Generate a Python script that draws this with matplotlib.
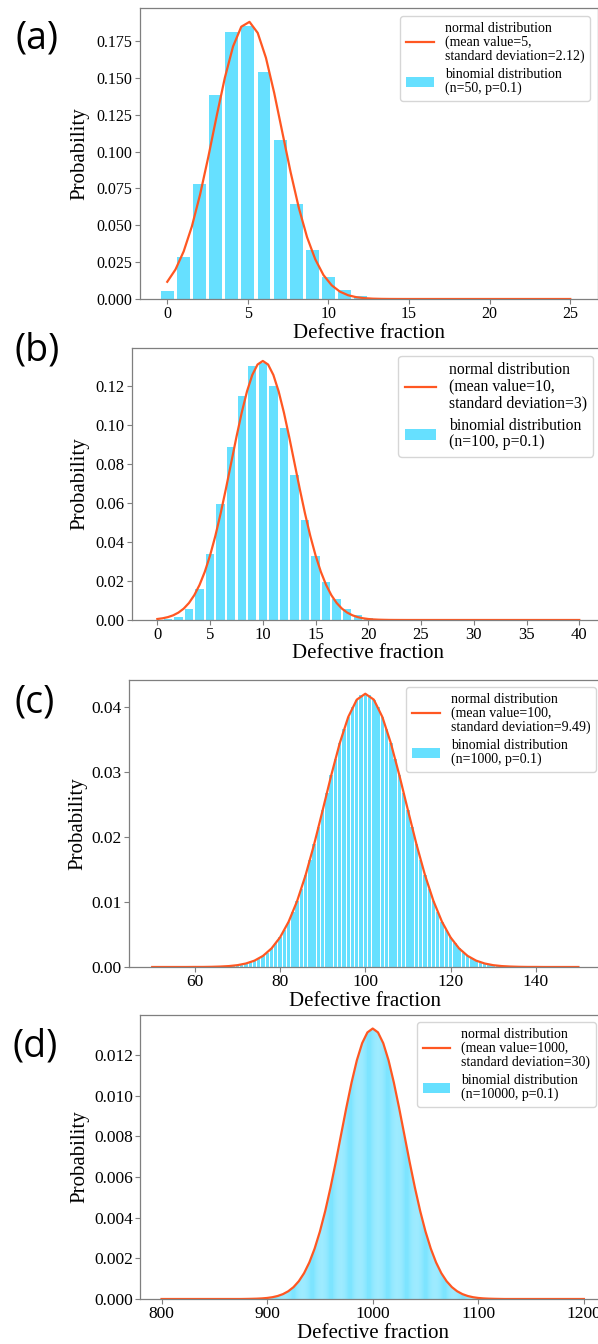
import numpy as np
import matplotlib
matplotlib.use("Agg")
import matplotlib.pyplot as plt

plt.rcParams['font.family'] = ['Liberation Serif', 'DejaVu Serif']

W, H = 598, 1344
BAR_COLOR = '#66e0ff'
LINE_COLOR = '#ff5722'
SPINE_COLOR = '#7f7f7f'

# ---- panel (a): n=50, p=0.1 ----
a_k = np.arange(0, 26)
a_bars = [0.0052, 0.0286, 0.0779, 0.1386, 0.1809, 0.1849, 0.1541, 0.1076, 0.0643, 0.0333,
          0.0152, 0.0061, 0.0022, 0.0007, 0.0002, 0.0, 0.0, 0.0, 0.0, 0.0,
          0.0, 0.0, 0.0, 0.0, 0.0, 0.0]
a_x = np.linspace(0, 25, 50)
a_curve = [0.01167, 0.01999, 0.03232, 0.04933, 0.07105, 0.09657, 0.1239, 0.1500, 0.1713, 0.1847,
           0.1880, 0.1805, 0.1636, 0.1399, 0.1129, 0.0860, 0.0618, 0.0419, 0.0269, 0.0162,
           0.00925, 0.00498, 0.00253, 0.00121, 0.00055, 0.00023, 0.00009, 0.00003, 0.00001, 0.0,
           0.0, 0.0, 0.0, 0.0, 0.0, 0.0, 0.0, 0.0, 0.0, 0.0,
           0.0, 0.0, 0.0, 0.0, 0.0, 0.0, 0.0, 0.0, 0.0, 0.0]

# ---- panel (b): n=100, p=0.1 ----
b_k = np.arange(0, 41)
b_bars = [0.00003, 0.0003, 0.0016, 0.0059, 0.0159, 0.0339, 0.0596, 0.0889, 0.1148, 0.1304,
          0.1319, 0.1199, 0.0988, 0.0743, 0.0513, 0.0327, 0.0193, 0.0106, 0.0054, 0.0026,
          0.0012, 0.0005, 0.0002, 0.0001, 0.00002, 0.0, 0.0, 0.0, 0.0, 0.0,
          0.0, 0.0, 0.0, 0.0, 0.0, 0.0, 0.0, 0.0, 0.0, 0.0, 0.0]
b_x = np.arange(0, 40.5, 0.5)
b_curve = [0.00051, 0.00088, 0.00148, 0.00240, 0.00380, 0.00584, 0.00874, 0.01272, 0.01800, 0.02477,
           0.03316, 0.04317, 0.05467, 0.06733, 0.08066, 0.09398, 0.10648, 0.11736, 0.12579, 0.13115,
           0.13298,
           0.13115, 0.12579, 0.11736, 0.10648, 0.09398, 0.08066, 0.06733, 0.05467, 0.04317, 0.03316,
           0.02477, 0.01800, 0.01272, 0.00874, 0.00584, 0.00380, 0.00240, 0.00148, 0.00088, 0.00051,
           0.00029, 0.00016, 0.00009, 0.00004, 0.00002, 0.00001, 0.0, 0.0, 0.0, 0.0,
           0.0, 0.0, 0.0, 0.0, 0.0, 0.0, 0.0, 0.0, 0.0, 0.0,
           0.0, 0.0, 0.0, 0.0, 0.0, 0.0, 0.0, 0.0, 0.0, 0.0,
           0.0, 0.0, 0.0, 0.0, 0.0, 0.0, 0.0, 0.0, 0.0, 0.0]

# ---- panel (c): n=1000, p=0.1 ----
c_k = np.arange(50, 151)
c_bars = [0.0, 0.0, 0.0, 0.0, 0.0, 0.0, 0.0, 0.0, 0.0, 0.0,
          0.00001, 0.00001, 0.00001, 0.00002, 0.00003, 0.00005, 0.00007, 0.00010, 0.00014, 0.00020,
          0.00028, 0.00039, 0.00054, 0.00073, 0.00098, 0.00131, 0.00171, 0.00223, 0.00286, 0.00363,
          0.00456, 0.00566, 0.00695, 0.00844, 0.01014, 0.01205, 0.01415, 0.01644, 0.01889, 0.02147,
          0.02413, 0.02681, 0.02947, 0.03203, 0.03443, 0.03660, 0.03847, 0.04000, 0.04113, 0.04182,
          0.04205,
          0.04182, 0.04113, 0.04000, 0.03847, 0.03660, 0.03443, 0.03203, 0.02947, 0.02681, 0.02413,
          0.02147, 0.01889, 0.01644, 0.01415, 0.01205, 0.01014, 0.00844, 0.00695, 0.00566, 0.00456,
          0.00363, 0.00286, 0.00223, 0.00171, 0.00131, 0.00098, 0.00073, 0.00054, 0.00039, 0.00028,
          0.00020, 0.00014, 0.00010, 0.00007, 0.00005, 0.00003, 0.00002, 0.00001, 0.00001, 0.00001,
          0.0, 0.0, 0.0, 0.0, 0.0, 0.0, 0.0, 0.0, 0.0, 0.0]
c_x = np.arange(50, 151, 2)
c_curve = [0.0, 0.0, 0.0, 0.0, 0.0, 0.00001, 0.00001, 0.00003, 0.00007, 0.00014,
           0.00028, 0.00054, 0.00098, 0.00171, 0.00286, 0.00456, 0.00695, 0.01014, 0.01415, 0.01889,
           0.02413, 0.02947, 0.03443, 0.03847, 0.04113,
           0.04204,
           0.04113, 0.03847, 0.03443, 0.02947, 0.02413, 0.01889, 0.01415, 0.01014, 0.00695, 0.00456,
           0.00286, 0.00171, 0.00098, 0.00054, 0.00028, 0.00014, 0.00007, 0.00003, 0.00001, 0.00001,
           0.0, 0.0, 0.0, 0.0, 0.0]

# ---- panel (d): n=10000, p=0.1 ----
d_k = np.arange(900, 1101)
d_bars = [0.000051, 0.000057, 0.000064, 0.000071, 0.000080, 0.000088, 0.000098, 0.000109, 0.000121, 0.000134,
          0.000148, 0.000163, 0.000180, 0.000198, 0.000218, 0.000240, 0.000264, 0.000290, 0.000317, 0.000347,
          0.000380, 0.000415, 0.000453, 0.000494, 0.000537, 0.000584, 0.000635, 0.000689, 0.000746, 0.000808,
          0.000874, 0.000944, 0.00102, 0.00110, 0.00118, 0.00127, 0.00137, 0.00147, 0.00157, 0.00168,
          0.00180, 0.00192, 0.00205, 0.00219, 0.00233, 0.00248, 0.00263, 0.00279, 0.00296, 0.00313,
          0.00332, 0.00350, 0.00370, 0.00390, 0.00410, 0.00432, 0.00454, 0.00476, 0.00499, 0.00523,
          0.00547, 0.00571, 0.00596, 0.00622, 0.00647, 0.00673, 0.00700, 0.00726, 0.00753, 0.00780,
          0.00807, 0.00833, 0.00860, 0.00887, 0.00913, 0.00940, 0.00966, 0.00991, 0.01016, 0.01041,
          0.01065, 0.01088, 0.01111, 0.01133, 0.01154, 0.01174, 0.01193, 0.01211, 0.01228, 0.01243,
          0.01258, 0.01271, 0.01283, 0.01294, 0.01303, 0.01311, 0.01318, 0.01323, 0.01327, 0.01329,
          0.01330,
          0.01329, 0.01327, 0.01323, 0.01318, 0.01311, 0.01303, 0.01294, 0.01283, 0.01271, 0.01258,
          0.01243, 0.01228, 0.01211, 0.01193, 0.01174, 0.01154, 0.01133, 0.01111, 0.01088, 0.01065,
          0.01041, 0.01016, 0.00991, 0.00966, 0.00940, 0.00913, 0.00887, 0.00860, 0.00833, 0.00807,
          0.00780, 0.00753, 0.00726, 0.00700, 0.00673, 0.00647, 0.00622, 0.00596, 0.00571, 0.00547,
          0.00523, 0.00499, 0.00476, 0.00454, 0.00432, 0.00410, 0.00390, 0.00370, 0.00350, 0.00332,
          0.00313, 0.00296, 0.00279, 0.00263, 0.00248, 0.00233, 0.00219, 0.00205, 0.00192, 0.00180,
          0.00168, 0.00157, 0.00147, 0.00137, 0.00127, 0.00118, 0.00110, 0.00102, 0.000944, 0.000874,
          0.000808, 0.000746, 0.000689, 0.000635, 0.000584, 0.000537, 0.000494, 0.000453, 0.000415, 0.000380,
          0.000347, 0.000317, 0.000290, 0.000264, 0.000240, 0.000218, 0.000198, 0.000180, 0.000163, 0.000148,
          0.000134, 0.000121, 0.000109, 0.000098, 0.000088, 0.000080, 0.000071, 0.000064, 0.000057, 0.000051]
d_x = np.arange(800, 1201, 5)
d_curve = [0.0, 0.0, 0.0, 0.0, 0.0, 0.0, 0.0, 0.0, 0.0, 0.0,
           0.0, 0.0, 0.0, 0.0, 0.0, 0.0, 0.000004, 0.000009, 0.000016, 0.000029,
           0.000051, 0.000088, 0.000148, 0.000240, 0.000380, 0.000584, 0.000874, 0.00127, 0.00180, 0.00248,
           0.00332, 0.00432, 0.00547, 0.00673, 0.00807, 0.00940, 0.01065, 0.01174, 0.01258, 0.01311,
           0.01330,
           0.01311, 0.01258, 0.01174, 0.01065, 0.00940, 0.00807, 0.00673, 0.00547, 0.00432, 0.00332,
           0.00248, 0.00180, 0.00127, 0.000874, 0.000584, 0.000380, 0.000240, 0.000148, 0.000088, 0.000051,
           0.000029, 0.000016, 0.000009, 0.000004, 0.0, 0.0, 0.0, 0.0, 0.0, 0.0,
           0.0, 0.0, 0.0, 0.0, 0.0, 0.0, 0.0, 0.0, 0.0, 0.0]

panels = [
    dict(tag='(a)', k=a_k, bars=a_bars, x=a_x, curve=a_curve, snap=True,
         normal='normal distribution\n(mean value=5,\nstandard deviation=2.12)',
         binom='binomial distribution\n(n=50, p=0.1)',
         box=(140, 597.5, 8, 299), ylab=80, xlab=338, tag_xy=(37, 38), leg_tr=(590, 16),
         xticks=[0, 5, 10, 15, 20, 25], yfmt='%.3f', tick_fs=11.5, leg_fs=10),
    dict(tag='(b)', k=b_k, bars=b_bars, x=b_x, curve=b_curve, snap=True,
         normal='normal distribution\n(mean value=10,\nstandard deviation=3)',
         binom='binomial distribution\n(n=100, p=0.1)',
         box=(131.6, 605, 348, 620), ylab=80, xlab=657.5, tag_xy=(37, 350), leg_tr=(593, 356),
         xticks=list(range(0, 41, 5)), yfmt='%.2f', tick_fs=12, leg_fs=11.3),
    dict(tag='(c)', k=c_k, bars=c_bars, x=c_x, curve=c_curve, snap=True,
         normal='normal distribution\n(mean value=100,\nstandard deviation=9.49)',
         binom='binomial distribution\n(n=1000, p=0.1)',
         box=(129, 601.6, 680, 967), ylab=78, xlab=1006.5, tag_xy=(35, 703), leg_tr=(596, 687),
         xticks=[60, 80, 100, 120, 140], yfmt='%.2f', tick_fs=12.5, leg_fs=10),
    dict(tag='(d)', k=d_k, bars=d_bars, x=d_x, curve=d_curve, snap=False,
         normal='normal distribution\n(mean value=1000,\nstandard deviation=30)',
         binom='binomial distribution\n(n=10000, p=0.1)',
         box=(140.4, 605, 1015, 1299), ylab=80, xlab=1338, tag_xy=(35, 1047), leg_tr=(596, 1022),
         xticks=[800, 900, 1000, 1100, 1200], yfmt='%.3f', tick_fs=12.5, leg_fs=10),
]

fig = plt.figure(figsize=(W / 100, H / 100), dpi=100)

for p in panels:
    l, r, t, b = p['box']
    ax = fig.add_axes([l / W, 1 - b / H, (r - l) / W, (b - t) / H])
    ax.bar(p['k'], p['bars'], width=0.8, color=BAR_COLOR, edgecolor='none',
           label=p['binom'], snap=p['snap'])
    ax.plot(p['x'], p['curve'], color=LINE_COLOR, lw=1.6, label=p['normal'])
    ax.set_xticks(p['xticks'])
    ax.yaxis.set_major_formatter(matplotlib.ticker.FormatStrFormatter(p['yfmt']))
    ax.tick_params(labelsize=p['tick_fs'], color=SPINE_COLOR, length=3.5, width=0.8, pad=1.8)
    for s in ax.spines.values():
        s.set_color(SPINE_COLOR)
        s.set_linewidth(0.9)

    ax.set_ylabel('Probability', fontsize=15)
    ax.yaxis.set_label_coords((p['ylab'] - l) / (r - l), 0.5)
    ax.yaxis.label.set_va('center')
    ax.set_xlabel('Defective fraction', fontsize=15)
    ax.xaxis.set_label_coords(0.5, (b - p['xlab']) / (b - t))
    ax.xaxis.label.set_va('baseline')

    lx, ly = p['leg_tr']
    leg = ax.legend(loc='upper right', fontsize=p['leg_fs'], borderaxespad=0,
                    bbox_to_anchor=((lx - l) / (r - l), (b - ly) / (b - t)),
                    labelspacing=0.4)
    for txt in leg.get_texts():
        txt.set_linespacing(1.05)

    tx, ty = p['tag_xy']
    fig.text(tx / W, 1 - ty / H, p['tag'], fontsize=27, family='Open Sans',
             ha='center', va='center')

fig.savefig('out.png', dpi=100)
